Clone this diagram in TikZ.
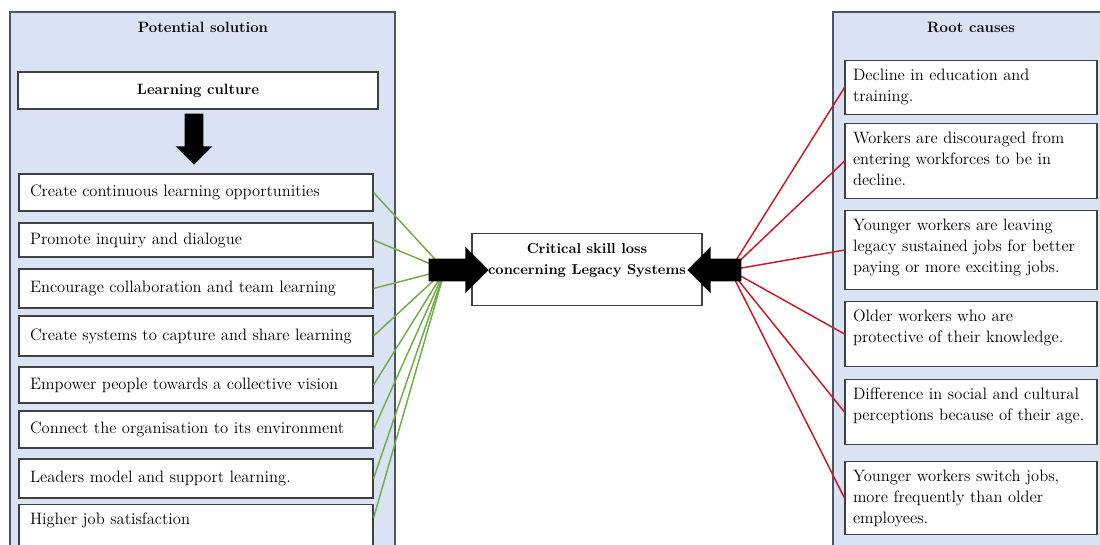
\documentclass[tikz,border=0pt]{standalone}
\usepackage{tikz}
\usetikzlibrary{shapes.arrows}

\definecolor{panelblue}{RGB}{218,227,243}
\definecolor{paneledge}{RGB}{75,85,100}
\definecolor{solgreen}{RGB}{112,173,71}
\definecolor{causered}{RGB}{204,24,36}

\begin{document}
\begin{tikzpicture}[x=0.75pt, y=-0.75pt,
    panel/.style={draw=paneledge, fill=panelblue, line width=0.8pt},
    paneltitle/.style={font=\fontsize{11.2}{14}\selectfont\bfseries},
    solbox/.style={draw=black!75, fill=white, line width=0.8pt, minimum width=265.5pt,
      text width=249pt, inner xsep=8.25pt, align=left, font=\fontsize{12.4}{15}\selectfont},
    causebox/.style={draw=black!75, fill=white, line width=0.8pt, minimum width=189pt,
      text width=177pt, inner xsep=6pt, inner ysep=0pt, text height=15pt, anchor=north,
      align=left, font=\fontsize{12.4}{15.75}\selectfont},
    critbox/.style={draw=black!75, fill=white, line width=0.8pt, minimum width=172.5pt,
      align=center, font=\fontsize{10.8}{16}\selectfont\bfseries},
    blockarrow/.style={single arrow, fill=black, inner sep=0pt, single arrow head extend=9pt},
    solline/.style={solgreen, line width=1.1pt},
    causeline/.style={causered, line width=1.1pt}]

    % Page frame
    \clip (0,0) rectangle (1100,544);

    % Draw the two panels
    \draw[panel] (10,12) rectangle (395,570);
    \draw[panel] (833,12) rectangle (1120,570);
    \node[paneltitle] (soltitle) at (203,27) {Potential solution};
    \node[paneltitle] (causetitle) at (971,27) {Root causes};

    % Learning culture and its items
    \node[draw=black!75, fill=white, line width=0.8pt, minimum width=270pt, minimum height=27.75pt,
      font=\fontsize{11.2}{14}\selectfont\bfseries] (culture) at (198,90.5) {Learning culture};
    \foreach \i/\yt/\yb/\txt in {1/174/211/{Create continuous learning opportunities},
        2/223/257/{Promote inquiry and dialogue},
        3/269/308/{Encourage collaboration and team learning},
        4/316/356/{Create systems to capture and share learning},
        5/367/403/{Empower people towards a collective vision},
        6/411/448/{Connect the organisation to its environment},
        7/459/498/{Leaders model and support learning.}}
      \node[solbox, minimum height={(\yb-\yt)*0.75pt}] (s\i) at (196,{(\yt+\yb)/2}) {\txt};
    \node[solbox, anchor=north, text height=12pt, text depth=40pt] (s8) at (196,504) {Higher job satisfaction};

    % Root causes
    \foreach \i/\yt/\yb/\txt [evaluate=\yb as \dd using (\yb-\yt)*0.75-15] in
       {1/60/114/{Decline in education and\\training.},
        2/123/198/{Workers are discouraged from\\entering workforces to be in\\decline.},
        3/210/289/{Younger workers are leaving\\legacy sustained jobs for better\\paying or more exciting jobs.},
        4/301/366/{Older workers who are\\protective of their knowledge.},
        5/379/444/{Difference in social and cultural\\perceptions because of their age.},
        6/461/534/{Younger workers switch jobs,\\more frequently than older\\employees.}}
      \node[causebox, text depth=\dd pt] (r\i) at (971,\yt) {\txt};

    % Central problem
    \node[critbox, anchor=north, inner ysep=0pt, text height=30.75pt, text depth=23.25pt] (crit) at (587,233)
      {Critical skill loss\\concerning Legacy Systems};

    % Connectors
    \coordinate (lconv) at (445,270);
    \coordinate (rconv) at (730,270);
    \foreach \i in {1,...,7}
      \draw[solline] (s\i.east) -- (lconv);
    \draw[solline] ([yshift=-10.5pt]s8.north east) -- (lconv);
    \foreach \i in {1,...,6}
      \draw[causeline] (r\i.west) -- (rconv);

    % Block arrows
    \node[blockarrow, minimum height=38.25pt, text height=13.5pt, single arrow head extend=6.75pt,
      rotate=-90] (darrow) at (194,134.5) {};
    \node[blockarrow, minimum height=45pt, text height=16.5pt] (larrow) at (453,270) {};
    \node[blockarrow, minimum height=40.5pt, text height=16.5pt, rotate=180] (rarrow) at (720,270) {};
\end{tikzpicture}
\end{document}
